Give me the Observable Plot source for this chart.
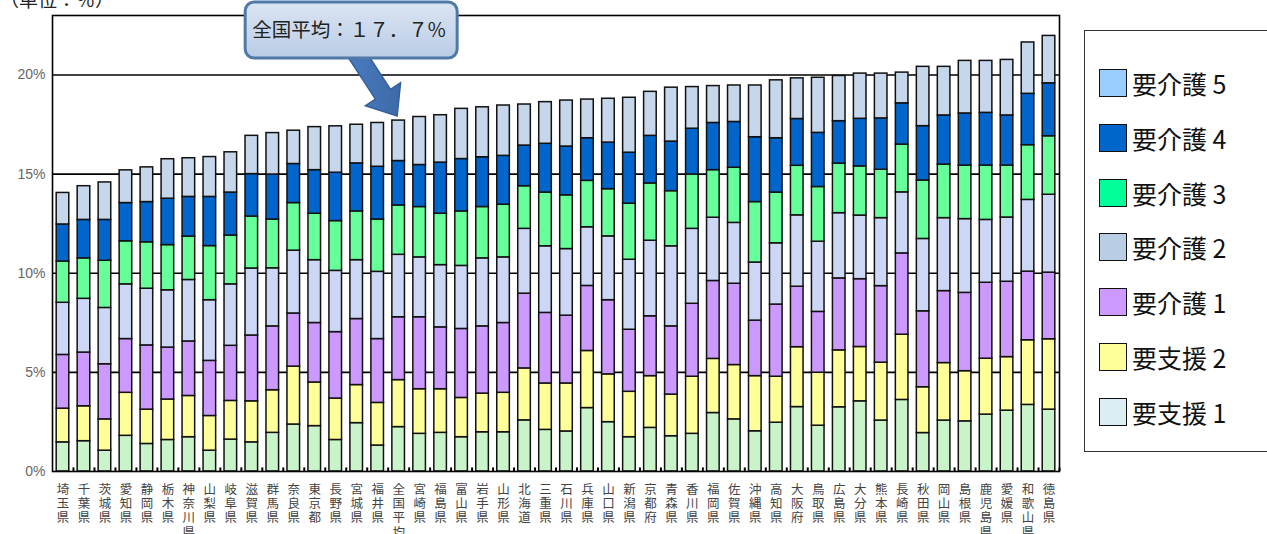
<!DOCTYPE html>
<html>
<head>
<meta charset="utf-8">
<script src="https://cdn.jsdelivr.net/npm/d3@7"></script>
<script src="https://cdn.jsdelivr.net/npm/@observablehq/plot@0.6"></script>
<style>
  body { margin: 0; background: #fff; font-family: "Noto Sans CJK JP", "Noto Sans", sans-serif; }
  #wrap { position: relative; width: 1267px; height: 534px; overflow: hidden; }
  #chart { position: absolute; left: 0; top: 0; }
  #legend { position: absolute; left: 1084px; top: 30px; width: 210px; height: 422px;
            border: 1.5px solid #333; box-sizing: border-box; background: #fff; }
  .item { position: absolute; left: 14px; height: 30px; display: flex; align-items: center; }
  .sw { width: 28px; height: 28px; border: 1.5px solid #111; box-sizing: border-box; margin-right: 5px; }
  .lab { font-size: 25px; color: #111; line-height: 30px; white-space: nowrap; }
</style>
</head>
<body>
<div id="wrap">
  <div id="chart"></div>
  <div id="legend"></div>
</div>
<script>
// ---------------- data ----------------
const prefectures = ["埼玉県","千葉県","茨城県","愛知県","静岡県","栃木県","神奈川県","山梨県","岐阜県","滋賀県",
  "群馬県","奈良県","東京都","長野県","宮城県","福井県","全国平均","宮崎県","福島県","富山県",
  "岩手県","山形県","北海道","三重県","石川県","兵庫県","山口県","新潟県","京都府","青森県",
  "香川県","福岡県","佐賀県","沖縄県","高知県","大阪府","鳥取県","広島県","大分県","熊本県",
  "長崎県","秋田県","岡山県","島根県","鹿児島県","愛媛県","和歌山県","徳島県"];

const shien1 = [1.47,1.53,1.05,1.80,1.39,1.59,1.73,1.05,1.61,1.47,1.95,2.37,2.29,1.59,2.44,1.31,2.24,1.90,1.95,1.73,
  1.98,1.98,2.58,2.10,2.02,3.20,2.49,1.73,2.20,1.78,1.90,2.95,2.63,2.03,2.46,3.25,2.31,3.24,3.54,2.57,
  3.61,1.94,2.57,2.53,2.87,3.07,3.36,3.12];
const shien2 = [1.70,1.76,1.58,2.17,1.73,2.04,2.08,1.75,1.95,2.07,2.15,2.92,2.20,2.09,1.92,2.15,2.37,2.25,2.20,1.98,
  1.95,1.99,2.62,2.34,2.42,2.88,2.41,2.29,2.61,2.10,2.88,2.73,2.74,2.78,2.32,3.02,2.67,2.87,2.74,2.92,
  3.29,2.31,2.90,2.53,2.82,2.70,3.26,3.55];
const kaigo1 = [2.71,2.71,2.78,2.71,3.24,2.62,2.75,2.78,2.78,3.32,3.22,2.68,3.00,3.35,3.33,3.22,3.17,3.63,3.12,3.48,
  3.39,3.52,3.77,3.56,3.42,3.28,3.74,3.13,3.02,3.44,3.68,3.93,4.10,2.80,3.64,3.05,3.07,3.63,3.42,3.86,
  4.10,3.83,3.63,3.95,3.83,3.80,3.46,3.36];
const kaigo2 = [2.63,2.71,2.84,2.76,2.86,2.89,3.10,3.06,3.10,3.38,2.93,3.17,3.17,3.09,2.97,3.39,3.15,3.02,3.14,3.18,
  3.43,3.31,3.27,3.36,3.36,2.96,3.22,3.53,3.81,4.04,3.78,3.19,3.07,2.93,3.09,3.60,3.54,3.29,3.21,3.43,
  3.08,3.65,3.68,3.72,3.17,3.24,3.62,3.93];
const kaigo3 = [2.08,2.04,2.38,2.17,2.34,2.28,2.19,2.73,2.46,2.62,2.46,2.40,2.34,2.51,2.46,2.64,2.49,2.54,2.59,2.75,
  2.59,2.66,2.15,2.71,2.71,2.34,2.38,2.83,2.89,2.78,2.74,2.40,2.78,3.05,2.56,2.50,2.76,2.50,2.48,2.44,
  2.41,2.95,2.70,2.70,2.74,2.62,2.76,2.95];
const kaigo4 = [1.87,1.94,2.06,1.93,2.03,2.34,2.00,2.48,2.17,2.14,2.27,1.97,2.20,2.44,2.42,2.66,2.24,2.12,2.58,2.64,
  2.51,2.46,2.05,2.46,2.46,2.15,2.35,2.57,2.40,2.50,2.31,2.38,2.31,3.27,2.74,2.36,2.73,2.14,2.40,2.59,
  2.08,2.74,2.48,2.63,2.66,2.53,2.59,2.67];
const kaigo5 = [1.59,1.70,1.89,1.65,1.75,1.99,1.95,2.01,2.03,1.93,2.09,1.68,2.17,2.34,1.95,2.21,2.04,2.42,2.39,2.53,
  2.52,2.54,2.07,2.10,2.32,1.95,2.21,2.77,2.22,2.72,2.10,1.86,1.84,2.61,2.92,2.05,2.78,2.28,2.28,2.26,
  1.55,2.99,2.45,2.65,2.62,2.80,2.59,2.39];

const seriesNames = ["要支援1","要支援2","要介護1","要介護2","要介護3","要介護4","要介護5"];
const barColors   = ["#c9f4c9","#ffff99","#cc99ff","#ccd7f5","#66ff99","#0066cc","#c6d7ec"];
const legendNames  = ["要介護 5","要介護 4","要介護 3","要介護 2","要介護 1","要支援 2","要支援 1"];
const legendColors = ["#99ccff","#0066cc","#00ff99","#b9cde5","#cc99ff","#ffff99","#daeef3"];
const yTicks = [0, 5, 10, 15, 20];
const gridValues = [5, 10, 15, 20];
const unitLabel = "（単位：％）";
const averageName = "全国平均";
const averageTotal = 17.7;
const averageLabel = "全国平均：１７．７%";

// ---------------- build ----------------
const seriesValues = [shien1, shien2, kaigo1, kaigo2, kaigo3, kaigo4, kaigo5];
const data = prefectures.flatMap((p, i) =>
  seriesNames.map((s, j) => ({pref: p, series: s, value: seriesValues[j][i]})));

const plot = Plot.plot({
  width: 1070,
  height: 534,
  marginLeft: 52,
  marginRight: 11,
  marginTop: 15,
  marginBottom: 63,
  style: {fontFamily: '"Noto Sans CJK JP", sans-serif', background: "transparent", overflow: "visible"},
  x: {domain: prefectures, paddingInner: 0.4, paddingOuter: 0.2, label: null},
  y: {domain: [0, 23], label: null},
  color: {domain: seriesNames, range: barColors},
  marks: [
    Plot.ruleY(gridValues, {stroke: "#000", strokeWidth: 1.6}),
    Plot.barY(data, {x: "pref", y: "value", fill: "series", order: seriesNames,
                     stroke: "#111", strokeWidth: 1.5}),
    Plot.ruleX(prefectures, {x: d => d, dx: 10.5, y1: 0, y2: 0.18, stroke: "#000", strokeWidth: 2}),
    Plot.frame({stroke: "#000", strokeWidth: 1.6}),
    Plot.axisY({ticks: yTicks, tickFormat: d => d + "%", tickSize: 0, tickPadding: 7,
                fontSize: 14, fill: "#666", fontFamily: '"Liberation Sans", Arial, sans-serif'}),
    Plot.axisX({tickSize: 0, tickPadding: 12, tickFormat: d => d.split("").join("\n"),
                fontSize: 12.5, lineHeight: 1.15, fill: "#444"})
  ]
});
document.getElementById("chart").appendChild(plot);

// ---------------- annotation (positioned from Plot scales) ----------------
const svg = d3.select(plot);
const xs = plot.scale("x"), ys = plot.scale("y");
const tipX = xs.apply(averageName) + xs.bandwidth / 2 - 1;
const tipY = ys.apply(averageTotal) - 4;

svg.append("text").attr("x", 0).attr("y", 7).attr("text-anchor", "start")
  .attr("font-size", 19).attr("fill", "#222").text(unitLabel);

const defs = svg.append("defs");
const g1 = defs.append("linearGradient").attr("id", "boxg").attr("x1", 0).attr("y1", 0).attr("x2", 0).attr("y2", 1);
g1.append("stop").attr("offset", "0%").attr("stop-color", "#dbe5f3");
g1.append("stop").attr("offset", "100%").attr("stop-color", "#b9cce5");
const g2 = defs.append("linearGradient").attr("id", "arrg").attr("x1", 0).attr("y1", 0).attr("x2", 1).attr("y2", 0);
g2.append("stop").attr("offset", "0%").attr("stop-color", "#4a7cc0");
g2.append("stop").attr("offset", "100%").attr("stop-color", "#3d6aa8");

// block arrow
const tailX = tipX - 43, tailY = 50;
const dx = tipX - tailX, dy = tipY - tailY, L = Math.hypot(dx, dy);
const ux = dx / L, uy = dy / L, vx = -uy, vy = ux;
const local = [[0,-9],[L-26,-9],[L-26,-21],[L,0],[L-26,21],[L-26,9],[0,9]];
const pts = local.map(([a, b]) => [tailX + a*ux + b*vx, tailY + a*uy + b*vy]);
svg.append("polygon").attr("points", pts.map(p => p.join(",")).join(" "))
  .attr("fill", "url(#arrg)").attr("stroke", "#36609a").attr("stroke-width", 1.5);

// callout box
const boxX = tipX - 152, boxY = 2, boxW = 212, boxH = 56;
svg.append("rect").attr("x", boxX).attr("y", boxY).attr("width", boxW).attr("height", boxH)
  .attr("rx", 9).attr("fill", "url(#boxg)").attr("stroke", "#4f79a7").attr("stroke-width", 3);
svg.append("text").attr("x", boxX + 7).attr("y", boxY + 35).attr("text-anchor", "start")
  .attr("font-size", 19.5).attr("fill", "#222").text(averageLabel);

// ---------------- legend ----------------
const legend = document.getElementById("legend");
legendNames.forEach((name, i) => {
  const item = document.createElement("div");
  item.className = "item";
  item.style.top = (37 + i * 54.8) + "px";
  const sw = document.createElement("div");
  sw.className = "sw";
  sw.style.background = legendColors[i];
  const lab = document.createElement("div");
  lab.className = "lab";
  lab.textContent = name;
  item.appendChild(sw); item.appendChild(lab);
  legend.appendChild(item);
});
</script>
</body>
</html>
